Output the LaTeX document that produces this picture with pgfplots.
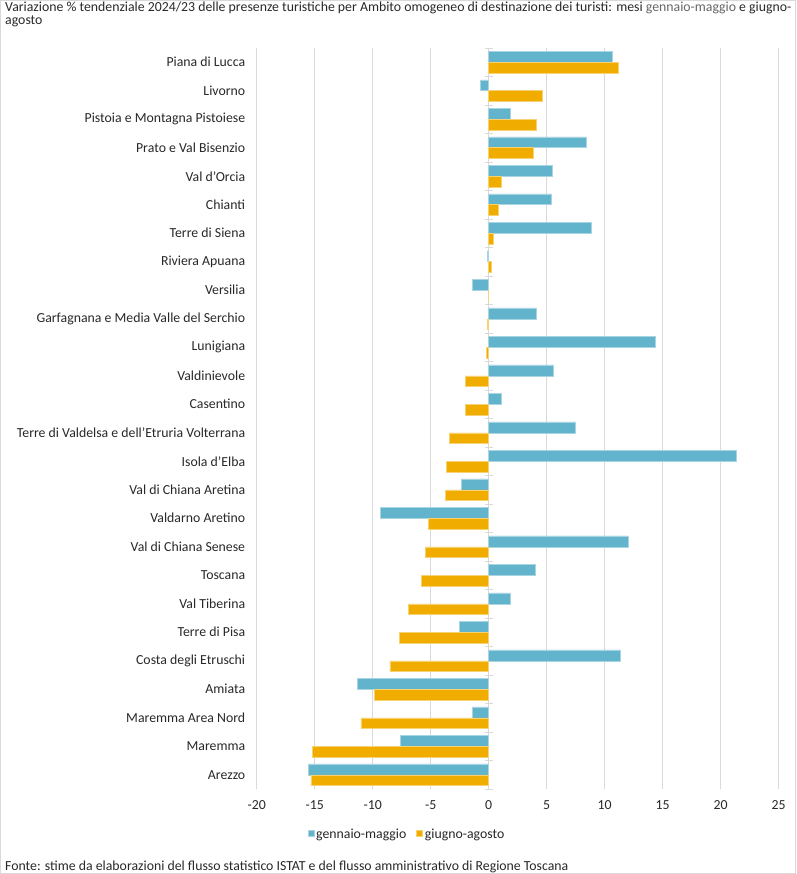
\documentclass[border=0pt]{standalone}
\usepackage{pgfplots}
\pgfplotsset{compat=1.18}
\usepackage{fontspec}
\setmainfont{Carlito}
\definecolor{cblue}{RGB}{98,179,204}
\definecolor{corange}{RGB}{240,173,0}
\definecolor{gridc}{RGB}{217,217,217}
\definecolor{txt}{RGB}{40,40,40}
\newcommand{\fs}{\fontsize{13.8}{15}\selectfont}
\begin{document}
\begin{tikzpicture}[x=1pt,y=1pt]
\path[use as bounding box] (0,0) rectangle (796,874);
\draw[gridc,line width=0.8pt] (0.4,0.4) rectangle (795.6,873.6);
\node[anchor=base west,inner sep=0,font=\fs,text=txt] at (5,862.5) {Variazione \% tendenziale 2024/23 delle presenze turistiche per Ambito omogeneo di destinazione dei turisti: mesi \textcolor{black!60}{gennaio-maggio} e giugno-};
\node[anchor=base west,inner sep=0,font=\fs,text=txt] at (5,849.5) {agosto};
\node[anchor=base west,inner sep=0,font=\fs,text=txt] at (5,4) {Fonte: stime da elaborazioni del flusso statistico ISTAT e del flusso amministrativo di Regione Toscana};
\begin{axis}[
  at={(256.7pt,85pt)}, anchor=south west,
  scale only axis, width=522pt, height=741pt,
  xbar, bar width=10.8pt,
  xmin=-20, xmax=25,
  ymin=-0.5, ymax=25.5, y dir=reverse,
  xtick={-20,-15,...,25},
  ytick={0,...,25},
  yticklabels={Piana di Lucca,Livorno,Pistoia e Montagna Pistoiese,Prato e Val Bisenzio,Val d’Orcia,Chianti,Terre di Siena,Riviera Apuana,Versilia,Garfagnana e Media Valle del Serchio,Lunigiana,Valdinievole,Casentino,Terre di Valdelsa e dell’Etruria Volterrana,Isola d’Elba,Val di Chiana Aretina,Valdarno Aretino,Val di Chiana Senese,Toscana,Val Tiberina,Terre di Pisa,Costa degli Etruschi,Amiata,Maremma Area Nord,Maremma,Arezzo},
  axis line style={draw=none},
  major tick length=0pt,
  xmajorgrids, grid style={gridc,line width=0.9pt},
  tick label style={font=\fs,text=txt},
  /pgf/number format/assume math mode=true,
  xticklabel style={yshift=-8pt},
  yticklabel style={xshift=-8pt},
  legend style={at={(0.288,-0.062)},anchor=center,draw=none,legend columns=2,
    font=\fs,text=txt,
    /tikz/every even column/.append style={column sep=8pt}},
  legend image code/.code={\fill[#1] (0pt,-1.5pt) rectangle (6pt,4.5pt);},
  clip=false,
]
\addplot[fill=cblue,draw=cblue!55!white,line width=0.5pt,bar shift=5.4pt] coordinates {
(10.63,0) (-0.69,1) (1.87,2) (8.45,3) (5.46,4) (5.40,5) (8.82,6) (-0.14,7) (-1.41,8) (4.14,9)
(14.37,10) (5.57,11) (1.06,12) (7.50,13) (21.35,14) (-2.36,15) (-9.31,16) (12.04,17) (4.02,18) (1.84,19)
(-2.53,20) (11.38,21) (-11.29,22) (-1.41,23) (-7.61,24) (-15.57,25)};
\addlegendentry{gennaio-maggio}
\addplot[fill=corange,draw=corange!55!white,line width=0.5pt,bar shift=-5.4pt] coordinates {
(11.15,0) (4.60,1) (4.08,2) (3.82,3) (1.09,4) (0.80,5) (0.40,6) (0.26,7) (-0.05,8) (-0.11,9)
(-0.23,10) (-2.01,11) (-2.01,12) (-3.39,13) (-3.62,14) (-3.71,15) (-5.20,16) (-5.46,17) (-5.78,18) (-6.93,19)
(-7.70,20) (-8.51,21) (-9.83,22) (-11.03,23) (-15.20,24) (-15.34,25)};
\addlegendentry{giugno-agosto}
\pgfplotsinvokeforeach{-0.5,0.5,...,25.5}{\draw[gridc,line width=0.9pt] (axis cs:-0.33,#1) -- (axis cs:0.33,#1);}
\end{axis}
\end{tikzpicture}
\end{document}
